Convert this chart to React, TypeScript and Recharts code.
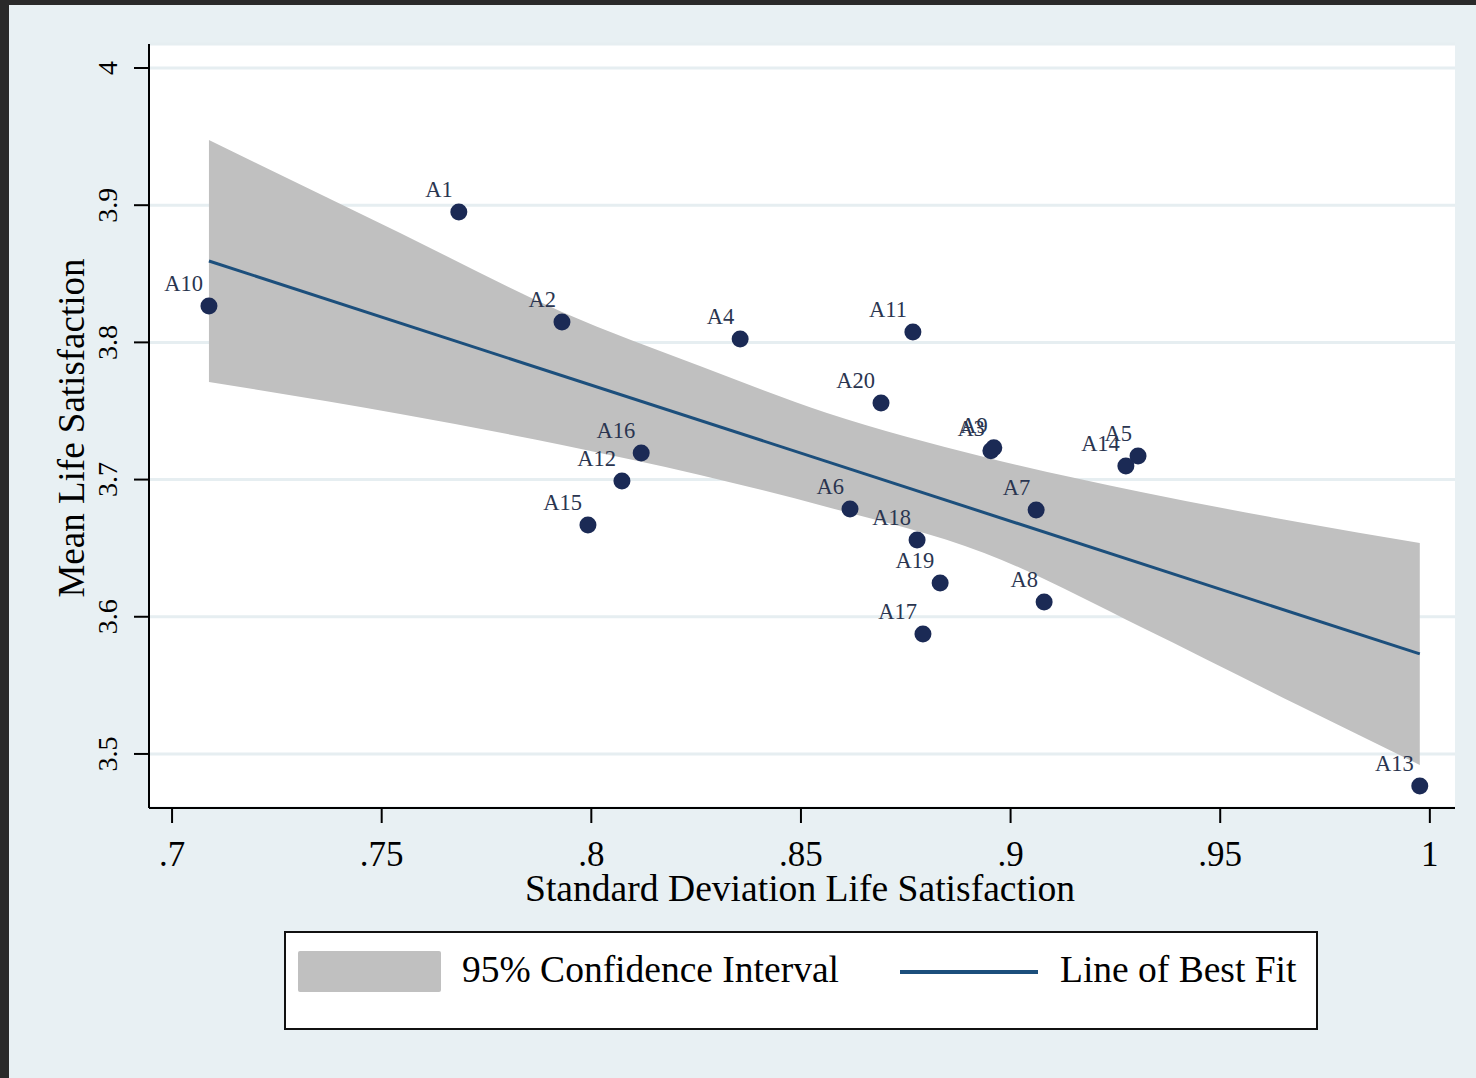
import React from 'react';
import { ComposedChart, Area, Line, Scatter, XAxis, YAxis, CartesianGrid, Label } from 'recharts';

// ---- data ----
const pointNames = ['A1', 'A2', 'A3', 'A4', 'A5', 'A6', 'A7', 'A8', 'A9', 'A10', 'A11', 'A12', 'A13', 'A14', 'A15', 'A16', 'A17', 'A18', 'A19', 'A20'];
const pointSD = [0.7684, 0.7930, 0.8953, 0.8355, 0.9304, 0.8617, 0.9061, 0.9080, 0.8960, 0.7088, 0.8767, 0.8073, 0.9976, 0.9275, 0.7992, 0.8119, 0.8791, 0.8777, 0.8832, 0.8691];
const pointMean = [3.895, 3.8149, 3.7210, 3.8025, 3.7172, 3.6786, 3.6778, 3.6108, 3.7232, 3.8265, 3.8076, 3.6990, 3.4767, 3.7099, 3.6669, 3.7194, 3.5875, 3.6560, 3.6246, 3.7558];

const bandSD = [0.7088, 0.7544, 0.7930, 0.8259, 0.8562, 0.8937, 0.9311, 0.9685, 0.9976];
const bandLow = [3.7711, 3.7478, 3.7252, 3.7034, 3.6800, 3.6465, 3.5926, 3.5357, 3.4920];
const bandHigh = [3.9475, 3.8797, 3.8222, 3.7828, 3.7485, 3.7165, 3.6910, 3.6691, 3.6538];

const fitSD = [0.7088, 0.9976];
const fitMean = [3.8593, 3.5729];

const xTicks = [0.7, 0.75, 0.8, 0.85, 0.9, 0.95, 1];
const xTickLabels = ['.7', '.75', '.8', '.85', '.9', '.95', '1'];
const yTicks = [3.5, 3.6, 3.7, 3.8, 3.9, 4];
const yTickLabels = ['3.5', '3.6', '3.7', '3.8', '3.9', '4'];

const seriesNames = ['95% Confidence Interval', 'Line of Best Fit'];
const xTitle = 'Standard Deviation Life Satisfaction';
const yTitle = 'Mean Life Satisfaction';

// ---- derived tables ----
const points = pointNames.map((n, i) => ({ name: n, x: pointSD[i], y: pointMean[i] }));
const band = bandSD.map((x, i) => ({ x, range: [bandLow[i], bandHigh[i]] }));
const fit = fitSD.map((x, i) => ({ x, y: fitMean[i] }));

const FONT = "'Liberation Serif', 'Times New Roman', serif";
const DOT = '#1b2a55';
const LINE = '#1c4f7c';
const BAND = '#c0c0c0';
const BG = '#e8f0f3';

const XTick = (props: any) => {
  const { x, y, payload } = props;
  const i = xTicks.findIndex((t) => Math.abs(t - payload.value) < 1e-9);
  return (
    <text x={x} y={y + 43} textAnchor="middle" fontSize={35} fontFamily={FONT} fill="#000">
      {i >= 0 ? xTickLabels[i] : ''}
    </text>
  );
};

const YTick = (props: any) => {
  const { x, y, payload } = props;
  const i = yTicks.findIndex((t) => Math.abs(t - payload.value) < 1e-9);
  const bx = x - 17;
  return (
    <text x={bx} y={y} transform={`rotate(-90, ${bx}, ${y})`} textAnchor="middle" fontSize={28} fontFamily={FONT} fill="#000">
      {i >= 0 ? yTickLabels[i] : ''}
    </text>
  );
};

const DotShape = (props: any) => {
  const { cx, cy, payload } = props;
  return (
    <g>
      <circle cx={cx} cy={cy} r={8.5} fill={DOT} />
      <text x={cx - 6} y={cy - 15} textAnchor="end" fontSize={22.5} fontFamily={FONT} fill="#2a3550">
        {payload.name}
      </text>
    </g>
  );
};

export default function App() {
  return (
    <div style={{ position: 'fixed', left: 0, top: 0, width: 1476, height: 1078, background: BG, overflow: 'hidden' }}>
      <div style={{ position: 'absolute', left: 0, top: 0, width: 1476, height: 5, background: '#2a2a2a' }} />
      <div style={{ position: 'absolute', left: 0, top: 0, width: 9, height: 1078, background: '#2a2a2a' }} />
      <div style={{ position: 'absolute', left: 0, top: 0 }}>
        <ComposedChart width={1476} height={1078} margin={{ top: 44, right: 21, bottom: 210, left: 89 }}>
          <CartesianGrid horizontal vertical={false} stroke="#e6eef1" strokeWidth={3} fill="#ffffff" />
          <XAxis
            type="number"
            dataKey="x"
            domain={[0.6945, 1.006]}
            ticks={xTicks}
            allowDataOverflow
            height={60}
            tickSize={15}
            tickMargin={0}
            axisLine={{ stroke: '#000', strokeWidth: 2 }}
            tickLine={{ stroke: '#000', strokeWidth: 2 }}
            tick={<XTick />}
            interval={0}
          >
            <Label
              content={() => (
                <text x={800} y={901} textAnchor="middle" fontSize={37.6} fontFamily={FONT} fill="#000">
                  {xTitle}
                </text>
              )}
            />
          </XAxis>
          <YAxis
            type="number"
            dataKey="y"
            domain={[3.4606, 4.0175]}
            ticks={yTicks}
            allowDataOverflow
            width={60}
            tickSize={15}
            tickMargin={0}
            axisLine={{ stroke: '#000', strokeWidth: 2 }}
            tickLine={{ stroke: '#000', strokeWidth: 2 }}
            tick={<YTick />}
            interval={0}
          >
            <Label
              content={() => (
                <text x={84} y={428} transform="rotate(-90, 84, 428)" textAnchor="middle" fontSize={37} fontFamily={FONT} fill="#000">
                  {yTitle}
                </text>
              )}
            />
          </YAxis>
          <Area
            data={band}
            dataKey="range"
            type="monotone"
            stroke="none"
            fill={BAND}
            fillOpacity={1}
            isAnimationActive={false}
            name={seriesNames[0]}
          />
          <Line
            data={fit}
            dataKey="y"
            type="linear"
            stroke={LINE}
            strokeWidth={3}
            dot={false}
            activeDot={false}
            isAnimationActive={false}
            name={seriesNames[1]}
          />
          <Scatter data={points} shape={<DotShape />} isAnimationActive={false} legendType="none" />
        </ComposedChart>
      </div>
      <div
        style={{
          position: 'absolute',
          left: 284,
          top: 931,
          width: 1034,
          height: 99,
          boxSizing: 'border-box',
          background: '#fff',
          border: '2px solid #111',
          fontFamily: FONT,
        }}
      >
        <div style={{ position: 'absolute', left: 12, top: 18, width: 143, height: 41, background: BAND, borderRadius: 2 }} />
        <div style={{ position: 'absolute', left: 176, top: 15, fontSize: 37.5, lineHeight: '44px', color: '#000', whiteSpace: 'nowrap' }}>
          {seriesNames[0]}
        </div>
        <div style={{ position: 'absolute', left: 614, top: 37, width: 138, height: 4, background: LINE }} />
        <div style={{ position: 'absolute', left: 774, top: 15, fontSize: 37.5, lineHeight: '44px', color: '#000', whiteSpace: 'nowrap' }}>
          {seriesNames[1]}
        </div>
      </div>
    </div>
  );
}
